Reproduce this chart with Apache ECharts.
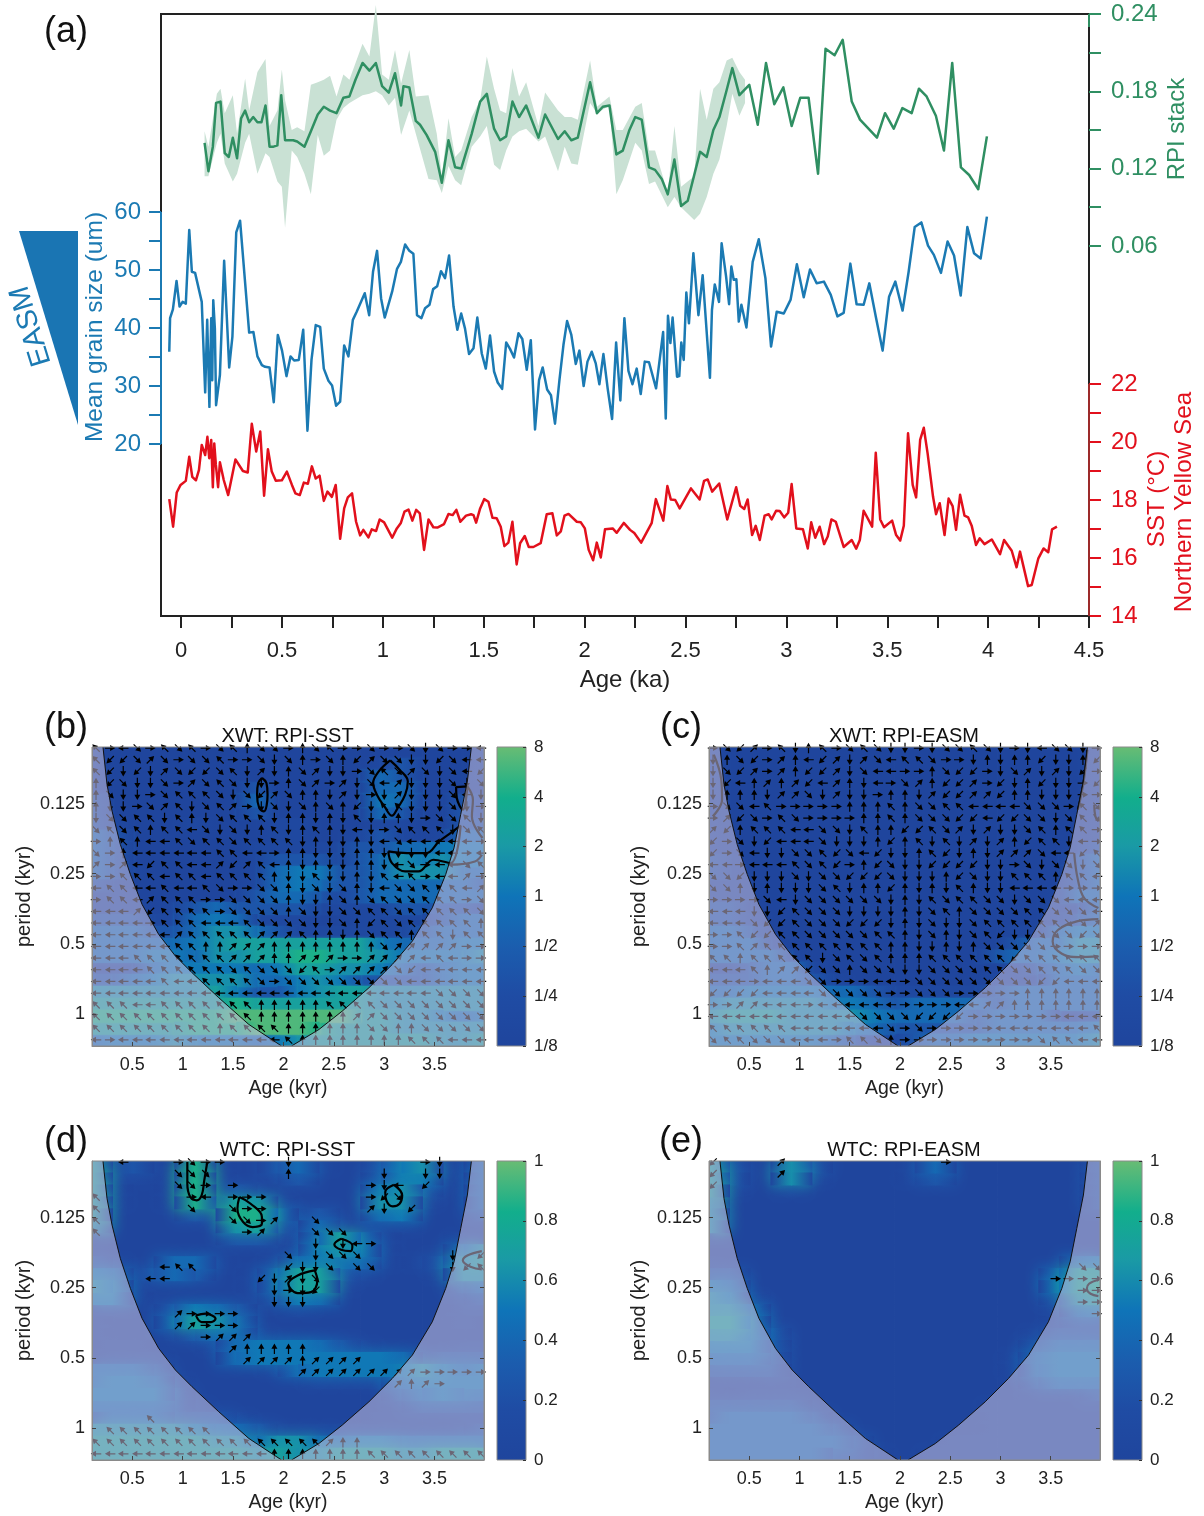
<!DOCTYPE html>
<html><head><meta charset="utf-8"><style>html,body{margin:0;background:#fff}#c{width:1204px;height:1516px}</style>
<script src="https://cdn.jsdelivr.net/npm/echarts@6/dist/echarts.min.js"></script></head><body><div id="c"></div><script>
const rpiAge=[.116,.135,.157,.173,.195,.216,.236,.256,.277,.297,.317,.337,.357,.378,.398,.418,.438,.458,.477,.496,.515,.535,.555,.575,.611,.643,.677,.707,.738,.77,.804,.834,.864,.899,.933,.965,.996,1.029,1.06,1.09,1.102,1.131,1.163,1.184,1.217,1.259,1.292,1.325,1.358,1.388,1.44,1.482,1.515,1.551,1.581,1.611,1.642,1.675,1.71,1.771,1.804,1.868,1.901,1.934,1.966,2.027,2.061,2.09,2.123,2.157,2.189,2.222,2.251,2.283,2.319,2.349,2.382,2.412,2.445,2.478,2.511,2.572,2.605,2.638,2.668,2.704,2.732,2.767,2.816,2.858,2.899,2.94,2.985,3.026,3.069,3.11,3.157,3.194,3.239,3.279,3.324,3.365,3.449,3.489,3.532,3.575,3.621,3.657,3.695,3.741,3.781,3.822,3.865,3.906,3.951,3.994];
const rpiVal=[.14,.118,.137,.171,.172,.132,.129,.144,.128,.159,.165,.156,.16,.156,.156,.169,.137,.137,.138,.177,.142,.142,.142,.141,.137,.149,.162,.168,.165,.163,.175,.176,.189,.202,.196,.202,.184,.179,.194,.169,.184,.183,.157,.154,.146,.133,.109,.142,.121,.12,.147,.172,.178,.151,.142,.145,.172,.16,.169,.144,.162,.143,.149,.142,.144,.187,.163,.168,.169,.131,.134,.15,.16,.158,.121,.119,.112,.1,.127,.091,.095,.133,.129,.15,.16,.181,.198,.177,.185,.154,.202,.17,.183,.153,.175,.175,.116,.213,.208,.22,.172,.158,.144,.163,.151,.167,.163,.182,.176,.161,.134,.202,.121,.115,.104,.145];
const bandAge=[.116,.135,.177,.195,.216,.256,.277,.317,.337,.378,.418,.438,.477,.499,.515,.548,.575,.611,.643,.677,.707,.738,.77,.804,.834,.899,.933,.965,.996,1.029,1.06,1.09,1.131,1.163,1.226,1.267,1.292,1.325,1.358,1.388,1.44,1.482,1.515,1.551,1.581,1.611,1.642,1.675,1.71,1.771,1.804,1.868,1.901,1.934,1.966,2.027,2.061,2.123,2.157,2.189,2.251,2.283,2.319,2.349,2.412,2.445,2.478,2.543,2.572,2.605,2.638,2.668,2.704,2.732,2.767,2.795];
const bandUp=[.149,.137,.178,.182,.163,.177,.147,.19,.165,.195,.205,.153,.165,.197,.173,.15,.152,.149,.185,.187,.189,.192,.176,.193,.189,.217,.207,.247,.193,.189,.212,.186,.212,.176,.177,.147,.114,.159,.129,.134,.16,.173,.207,.182,.165,.163,.198,.176,.187,.153,.179,.165,.16,.16,.158,.204,.168,.176,.15,.15,.168,.171,.134,.134,.101,.153,.106,.114,.182,.158,.182,.187,.204,.206,.195,.189];
const bandLow=[.114,.114,.14,.147,.124,.11,.116,.14,.147,.116,.132,.129,.11,.106,.074,.134,.129,.116,.1,.146,.13,.134,.158,.167,.171,.177,.178,.18,.177,.169,.175,.146,.165,.147,.112,.111,.101,.122,.111,.107,.137,.145,.153,.123,.119,.134,.145,.149,.151,.141,.145,.118,.137,.124,.123,.171,.163,.169,.1,.111,.14,.134,.108,.11,.09,.098,.09,.08,.085,.098,.116,.127,.153,.178,.161,.171];
const grainAge=[-.059,-.055,-.041,-.023,-.008,.007,.023,.04,.053,.069,.102,.119,.129,.14,.149,.154,.159,.167,.173,.192,.213,.238,.254,.273,.292,.337,.358,.378,.4,.416,.438,.459,.479,.5,.522,.542,.56,.583,.605,.626,.646,.667,.689,.707,.73,.748,.768,.788,.808,.829,.851,.87,.91,.932,.951,.971,.991,1.009,1.046,1.07,1.089,1.11,1.131,1.151,1.169,1.191,1.209,1.231,1.249,1.269,1.288,1.308,1.328,1.35,1.369,1.388,1.407,1.427,1.449,1.468,1.49,1.51,1.531,1.551,1.569,1.591,1.611,1.63,1.65,1.672,1.691,1.713,1.733,1.754,1.774,1.792,1.814,1.833,1.853,1.875,1.895,1.913,1.934,1.956,1.974,1.995,2.014,2.035,2.055,2.073,2.093,2.114,2.136,2.156,2.177,2.197,2.217,2.237,2.258,2.278,2.298,2.319,2.354,2.389,2.402,2.413,2.425,2.436,2.458,2.469,2.479,2.491,2.504,2.517,2.539,2.564,2.585,2.621,2.631,2.645,2.666,2.679,2.701,2.716,2.727,2.739,2.752,2.764,2.777,2.802,2.833,2.863,2.896,2.924,2.952,2.987,3.021,3.052,3.086,3.117,3.15,3.186,3.22,3.253,3.284,3.317,3.348,3.383,3.411,3.444,3.477,3.509,3.54,3.576,3.606,3.636,3.669,3.702,3.731,3.766,3.799,3.831,3.864,3.897,3.93,3.963,3.994];
const grainVal=[35.9,41.7,43.2,48.1,43.7,44.5,44.2,56.9,49.7,49.5,44.5,28.9,41.4,26.4,41.7,31,44.8,39.9,26.7,31.9,51.6,33.2,38.5,56.5,58.5,39.2,39.3,35.1,33.6,33.3,33.2,27.2,38.8,36.1,31.7,35.1,34.4,34.5,39.7,22.3,34.5,40.5,40.2,33,30.9,30.1,26.6,27.3,37,35.1,41.4,42.8,46,42.2,49.7,53.3,45.1,41.8,46.3,50.2,51.4,54.4,53.3,52.8,42.2,41.7,43.4,44,46.7,47.2,49.8,48.6,52.5,43.7,39.7,42.5,39.9,35.5,36.5,41.8,35.6,33,38.7,32.5,30.6,29.5,37.5,36.4,34.9,39.1,38.1,32.8,37.9,22.5,31,33.2,29.4,28.4,23.5,31,37.1,41.2,38.8,33.8,36.1,30,34.2,35.9,33.9,30.3,35.5,29.6,24.3,37.5,27.5,41.7,32.6,30.3,33,28.6,34.2,34.1,29.6,39.3,24.4,42.1,37.4,41.8,31.6,31.7,37.5,34.5,46.1,40.8,52.9,42.2,49.1,31.4,43.1,47.5,44.5,54.6,48.9,44.1,50.6,48.3,48.4,41.1,44,40.1,51.4,55.3,48.6,36.8,42.8,42.5,44.9,51,45.3,50.1,47.7,48,45.7,42,42.6,51.1,44.1,44,47.7,41.8,36.1,45.4,48,43,49.7,57.4,58.2,54.2,52.6,49.5,54.9,52.5,45.6,57.4,52.9,52,59.2];
const sstAge=[-.059,-.04,-.022,-.003,.023,.04,.055,.073,.088,.102,.119,.13,.139,.149,.157,.164,.172,.183,.192,.211,.233,.269,.306,.33,.35,.372,.392,.411,.43,.449,.469,.499,.524,.549,.566,.588,.608,.628,.648,.667,.686,.707,.725,.747,.766,.788,.808,.826,.847,.867,.887,.903,.928,.945,.966,.984,1.006,1.046,1.069,1.089,1.107,1.127,1.146,1.165,1.183,1.204,1.226,1.25,1.27,1.303,1.325,1.346,1.364,1.384,1.412,1.437,1.449,1.462,1.482,1.502,1.523,1.543,1.564,1.584,1.602,1.622,1.642,1.663,1.68,1.703,1.723,1.746,1.782,1.812,1.84,1.862,1.882,1.9,1.92,1.961,1.981,2.001,2.02,2.042,2.06,2.08,2.101,2.139,2.159,2.194,2.225,2.246,2.28,2.332,2.353,2.39,2.41,2.427,2.449,2.471,2.527,2.57,2.592,2.61,2.632,2.667,2.707,2.751,2.771,2.791,2.808,2.83,2.848,2.868,2.892,2.912,2.927,2.949,2.967,2.989,3.009,3.026,3.049,3.082,3.106,3.123,3.143,3.165,3.187,3.205,3.223,3.245,3.284,3.324,3.346,3.364,3.383,3.425,3.443,3.465,3.484,3.524,3.544,3.564,3.582,3.603,3.626,3.643,3.663,3.681,3.7,3.727,3.742,3.76,3.784,3.804,3.824,3.841,3.861,3.883,3.901,3.919,3.94,3.958,3.982,4.018,4.059,4.079,4.117,4.141,4.158,4.198,4.216,4.249,4.275,4.298,4.317,4.341];
const sstVal=[18.03,17.08,18.26,18.52,18.66,19.49,18.8,18.68,19.03,19.9,19.55,20.18,19.44,20.07,18.44,19.95,19.21,18.44,19.3,18.69,18.17,19.4,19,18.95,20.63,19.67,20.36,18.15,19.75,18.98,18.66,18.68,18.98,18.52,18.23,18.17,18.6,18.56,19.16,18.74,18.84,17.97,18.29,18.11,18.52,16.66,17.71,18.09,18.23,17.25,16.78,16.97,16.71,16.99,16.93,17.33,17.23,16.7,17.02,17.21,17.6,17.67,17.29,17.66,17.54,16.28,17.33,17.06,17.05,17.17,17.52,17.48,17.66,17.25,17.46,17.51,17.48,17.22,17.71,18.03,17.94,17.39,17.37,17.08,16.41,16.53,17.25,15.78,16.51,16.76,16.38,16.38,16.51,17.51,17.54,16.78,16.92,17.46,17.52,17.25,17.23,17.02,16.28,15.92,16.53,16.02,16.99,17.02,16.87,17.21,16.97,16.86,16.53,17.2,18.03,17.29,18.48,18.02,18,17.71,18.4,18.02,18.66,18.71,18.29,18.57,17.33,18.44,17.8,17.69,18.02,16.79,17.11,16.62,17.46,17.51,17.33,17.63,17.62,17.4,17.56,18.55,17.02,16.99,16.33,17.23,16.7,17.08,16.48,16.74,17.33,17.25,16.38,16.62,16.32,16.62,17.63,17.08,19.63,17.33,17.06,17.29,16.79,16.6,17.11,20.3,18.52,18.09,20.07,20.49,19.61,18.11,17.51,17.89,16.79,18.05,17.79,16.97,18.18,17.46,17.4,17.1,16.45,16.68,16.48,16.64,16.13,16.62,16.25,15.68,16.22,15.03,15.07,15.99,16.33,16.2,16.99,17.08];
const ageTicks=[0,.25,.5,.75,1,1.25,1.5,1.75,2,2.25,2.5,2.75,3,3.25,3.5,3.75,4,4.25,4.5];
const ageLabels=[0,.5,1,1.5,2,2.5,3,3.5,4,4.5];
const grainTicks=[20,25,30,35,40,45,50,55,60],grainLabels=[20,30,40,50,60];
const rpiTicks=[.06,.09,.12,.15,.18,.21,.24],rpiLabels=[.06,.12,.18,.24];
const sstTicks=[14,15,16,17,18,19,20,21,22],sstLabels=[14,16,18,20,22];
const colAge=[.1,.305,.51,.715,.92,1.125,1.33,1.535,1.74,1.945,2.15,2.355,2.56,2.765,2.97,3.175,3.38,3.585,3.79,3.995];
const rowOct=[-3.725,-3.554,-3.383,-3.212,-3.042,-2.871,-2.7,-2.529,-2.358,-2.187,-2.016,-1.845,-1.674,-1.503,-1.332,-1.161,-.99,-.819,-.648,-.477,-.306,-.135,.035,.206,.377];
const levelB=[[1,0,0,0,0,0,0,0,0,0,0,0,0,0,0,0,0,0,0,1],[1,0,0,0,0,0,0,0,0,0,0,0,0,0,1,2,0,0,0,1],[1,0,0,0,0,0,0,0,0,0,0,0,0,0,3,2,0,0,0,1],[1,0,0,0,0,0,0,0,2,0,0,0,0,0,3,3,0,0,0,0],[2,0,0,0,0,0,0,0,3,0,0,0,0,0,4,3,0,0,2,1],[2,0,0,0,0,0,0,0,2,0,0,0,0,0,3,2,0,0,2,1],[2,1,0,0,0,1,0,0,0,1,1,0,0,0,1,1,0,0,2,2],[3,2,0,0,0,0,0,0,0,1,1,0,0,1,2,1,0,1,3,3],[3,2,0,0,0,0,0,0,1,1,1,1,1,2,2,3,3,4,4,4],[3,2,0,0,0,0,0,0,1,2,2,2,1,2,3,5,4,5,4,4],[3,2,1,0,0,0,0,0,1,3,4,4,2,2,3,5,5,5,3,3],[2,1,0,0,0,0,0,0,1,3,4,3,2,2,3,3,3,3,3,2],[1,1,0,0,0,0,0,0,2,3,3,2,1,2,3,3,3,3,3,3],[1,1,1,0,1,2,3,2,2,2,2,1,1,1,1,2,2,2,2,1],[2,2,2,1,1,3,4,3,1,1,1,0,0,1,1,1,1,2,3,3],[3,3,3,2,2,3,5,5,3,2,1,1,1,1,1,1,2,3,3,3],[3,3,3,3,3,4,5,6,6,6,6,6,6,6,4,3,3,3,4,4],[3,3,3,4,4,3,5,5,6,6,7,7,6,6,5,4,4,4,4,5],[1,1,1,3,4,4,4,4,3,4,6,6,5,5,4,3,2,3,4,4],[2,2,3,4,5,5,5,5,3,3,4,5,4,2,2,2,2,3,4,4],[5,5,5,5,5,5,6,4,2,2,4,5,6,6,5,5,5,5,5,5],[6,6,6,6,6,6,6,7,6,6,6,6,6,6,5,5,5,5,5,5],[7,7,7,7,7,7,7,8,8,8,8,8,8,6,6,5,5,4,3,4],[6,6,6,6,6,7,7,7,8,8,8,7,6,6,6,5,5,5,5,5],[3,4,4,4,5,4,4,4,3,4,5,6,6,6,6,6,6,5,5,6]];
const levelC=[[1,0,0,0,0,0,0,0,0,0,0,0,0,0,0,0,0,0,0,1],[1,0,0,0,0,0,0,0,0,0,0,0,0,0,0,0,0,0,0,1],[1,0,0,0,0,0,0,0,0,0,0,0,0,0,0,0,0,0,0,1],[1,0,0,0,0,0,0,0,0,0,0,0,0,0,0,0,0,0,0,1],[1,0,0,0,0,0,0,0,0,0,0,0,0,0,0,0,0,0,0,1],[1,0,0,0,0,0,0,0,0,0,0,0,0,0,0,0,0,0,0,1],[1,0,0,0,0,0,0,0,0,0,0,0,0,0,0,0,0,0,0,1],[1,0,0,0,0,0,0,0,0,0,0,0,0,0,0,0,0,0,0,1],[1,0,0,0,0,0,0,0,0,0,0,0,0,0,0,0,0,0,1,2],[2,1,0,0,0,0,0,0,0,0,0,0,0,0,0,0,0,0,2,3],[2,1,0,0,0,0,0,0,0,0,0,0,0,0,0,0,0,0,2,3],[1,1,0,0,0,0,0,0,0,0,0,0,0,0,0,0,0,0,2,3],[1,1,0,0,0,0,0,0,0,0,0,0,0,0,0,0,0,1,3,3],[2,2,0,0,0,0,0,0,0,0,0,0,0,0,0,0,0,1,1,3],[2,2,1,0,0,0,0,0,0,0,0,0,0,0,0,0,0,1,2,3],[3,3,2,0,0,0,0,0,0,0,0,0,0,0,0,1,0,3,4,4],[3,3,3,1,0,0,0,0,0,0,0,0,0,0,0,2,3,3,5,5],[3,3,3,3,1,0,0,0,0,0,0,0,0,0,2,3,3,4,5,5],[1,1,2,3,3,1,0,0,0,0,0,0,0,0,0,1,2,3,4,3],[2,2,2,3,3,2,1,0,0,0,0,0,0,0,1,1,1,3,3,3],[3,3,4,4,4,4,3,3,2,1,1,1,1,1,2,3,3,3,3,3],[4,5,5,5,5,5,4,4,3,2,3,3,3,3,2,3,3,3,3,3],[5,6,6,6,5,5,5,5,4,3,3,3,3,2,3,3,3,1,1,2],[4,5,5,5,5,5,5,4,3,2,2,2,2,2,3,3,3,3,3,4],[4,4,4,4,4,4,3,2,1,1,2,3,3,4,4,4,4,4,4,5]];
const levelD=[[6,1,2,0,0,7,1,0,0,2,3,1,0,0,2,4,5,1,0,3],[6,1,1,0,1,7,1,0,0,1,2,0,0,0,2,4,4,0,0,3],[6,1,0,0,1,7,1,2,1,0,0,0,0,0,4,5,2,0,0,3],[6,1,0,0,1,7,2,6,5,1,0,0,0,0,5,5,1,0,0,3],[6,0,0,0,0,2,1,7,7,3,0,2,0,0,3,4,0,0,0,2],[5,0,0,0,0,0,0,5,6,2,0,3,1,1,1,1,0,0,0,1],[1,0,0,0,0,0,0,2,2,1,0,3,6,3,1,0,0,0,1,1],[1,0,0,0,0,0,0,0,0,0,1,4,5,4,1,0,0,0,3,5],[2,1,0,0,3,3,1,0,0,1,3,4,3,3,1,0,1,2,5,6],[4,3,1,2,3,2,0,0,1,3,6,6,2,1,0,0,0,1,5,5],[5,4,0,0,0,0,0,0,1,3,6,6,1,0,0,0,0,0,2,3],[4,4,1,0,0,0,0,0,0,2,4,3,0,0,0,0,0,0,1,2],[1,1,0,0,2,4,3,2,0,0,1,0,0,0,0,0,0,0,1,1],[1,0,0,0,3,6,5,3,0,0,0,0,0,0,0,0,0,0,1,0],[1,0,0,0,1,2,3,3,1,0,0,0,0,0,0,0,0,0,0,0],[0,1,1,0,0,0,1,3,4,4,4,3,2,1,0,0,0,0,1,1],[0,1,1,1,0,0,0,3,4,4,4,4,4,4,4,3,1,2,2,2],[3,3,3,2,0,0,0,0,0,1,3,4,4,4,4,4,5,4,3,4],[3,4,4,3,1,0,0,0,0,0,0,1,1,1,1,3,4,4,4,4],[4,4,4,4,2,0,0,0,0,0,0,0,0,0,0,2,3,4,3,3],[3,3,3,3,2,1,0,0,0,0,0,0,0,0,0,1,2,2,2,2],[2,3,3,3,2,2,2,1,0,0,0,0,0,0,1,1,1,1,1,1],[5,5,5,5,5,4,3,3,2,1,1,1,1,1,1,1,1,1,1,2],[6,6,6,6,6,6,5,5,3,5,5,3,3,4,4,3,3,3,3,3],[6,6,6,6,6,6,6,6,5,6,5,5,6,6,6,5,5,6,6,6]];
const levelE=[[6,2,0,0,5,2,0,0,0,0,1,3,0,0,0,0,0,0,0,2],[6,2,0,0,5,1,0,0,0,0,1,2,0,0,0,0,0,0,0,2],[6,1,0,0,1,0,0,0,0,0,0,0,0,0,0,0,0,0,0,2],[5,0,0,0,0,0,0,0,0,0,0,0,0,0,0,0,0,0,0,2],[5,0,0,0,0,0,0,0,0,0,0,0,0,0,0,0,0,0,0,1],[5,0,0,0,0,0,0,0,0,0,0,0,0,0,0,0,0,0,0,0],[1,0,0,0,0,0,0,0,0,0,0,0,0,0,0,0,0,0,0,0],[0,0,0,0,0,0,0,0,0,0,0,0,0,0,0,0,0,0,0,0],[1,0,0,0,0,0,0,0,0,0,0,0,0,0,0,0,0,0,3,4],[2,2,0,0,0,0,0,0,0,0,0,0,0,0,0,0,0,3,6,6],[4,3,0,0,0,0,0,0,0,0,0,0,0,0,0,0,0,4,6,7],[5,4,1,0,0,0,0,0,0,0,0,0,0,0,0,0,0,2,5,6],[5,5,3,0,0,0,0,0,0,0,0,0,0,0,0,0,0,1,3,4],[6,6,4,0,0,0,0,0,0,0,0,0,0,0,0,0,0,1,2,2],[5,5,4,2,0,0,0,0,0,0,0,0,0,0,0,0,1,2,2,2],[4,4,4,2,0,0,0,0,0,0,0,0,0,0,0,0,2,3,3,3],[3,3,3,2,0,0,0,0,0,0,0,0,0,0,0,1,3,4,4,4],[2,2,2,2,0,0,0,0,0,0,0,0,0,0,0,1,3,4,4,4],[0,0,0,1,0,0,0,0,0,0,0,0,0,0,0,0,2,3,3,3],[1,0,1,1,1,0,0,0,0,0,0,0,0,0,0,0,1,1,1,2],[2,2,2,2,2,0,0,0,0,0,0,0,0,0,1,1,1,1,1,1],[2,3,3,3,3,2,0,0,0,0,0,0,0,0,1,1,1,1,1,1],[3,3,3,3,3,3,2,0,0,0,0,0,0,0,1,1,1,1,1,1],[3,3,3,3,3,3,3,2,0,0,0,0,1,1,1,1,1,1,1,1],[3,3,3,3,3,3,2,2,1,0,0,1,1,1,1,1,1,1,1,1]];
const arrowAge=[.14,.28,.41,.55,.68,.82,.96,1.09,1.23,1.37,1.5,1.64,1.78,1.91,2.05,2.19,2.32,2.46,2.59,2.73,2.87,3,3.14,3.27,3.41,3.55,3.68,3.82,3.96];
const arrowOct=[-3.795,-3.628,-3.462,-3.295,-3.129,-2.962,-2.795,-2.629,-2.462,-2.295,-2.129,-1.962,-1.795,-1.629,-1.462,-1.295,-1.129,-.962,-.795,-.629,-.462,-.295,-.129,.038,.205,.372];
const phaseB=["30470373073277027300700767004","35571707730076720725177665744","35656175573616271660737176745","25766701737660271016741666767","27660733376751722616061666746","26607136731067672725633666760","67733632673336226263622607736","73732334767623623264607333673","02324437337333362662647444440","70244444433440226662266664404","10145334415134262662264704473","00333433433332663662634304410","43344344370077267672647733341","03341333007777266272737733307","44415333307777276677337333337","44440333444377776672537333332","44444413333311132262733233633","44444433221112222222271111100","44433333331112211100111143400","44443333337377753011117544444","44444344333370777777777444444","44444444444444444444444447777","33344333333322222333377777777","33333333333322222221177777777","33333333323333222222772277777","40444444444444322222222333444"];
const phaseC=["07510362307376606773760647760","62750124516174337006262256625","67510125516744002755067161650","65421215412640712551056256605","62226117616602261551152266600","07743000002223277334444777037","01570370000223277755455776737","15233344776322553716166732330","50765444766625236361612533640","50746677357456623562611174453","44044437350257665555660767767","77566676775557666257663332334","77262666736225262632664444000","00007467777776263733776777444","44466537776666267327777337774","44475537775556267667333333771","00355337777733267267356677757","00313333333332266262777778000","33233333673732223333335333333","44432115772777667777337733377","44404447700044077777777755444","55554444777770077700000222222","00114440444444000044112222222","44444444444777755550000000444","33333344444447070000044444443","73377744403372000000000073344"];
const phaseD=["..4...0700....6.........06...","......777.....2......6..66...","......770.0.........064.5....","3......04.000.......057......","3......7..700.......16.5.....","3.........7701..7............","3..........01...777..........","................6.640........","..............7.6777......6.5",".....433......5667.77.....653","....44......56167............",".............6065............",".............666.............","......10000..................","......11000..................","........0111.................","..........122222.............","...........111121111.........","...............11111111100000","......................1210...",".............................",".............................","....3........................",".33333333....................","33333333333333333122.........","44444444444442222222333333333"];
const phaseE=["5....1...........0...........","5....1.......................","5............................",".............................",".............................",".............................",".............................",".............................",".............................","...........................77",".........................0000","...........................00","...........................00","............................0",".............................",".............................",".............................",".............................",".............................",".............................",".............................",".............................",".............................",".............................",".............................","............................."];
const coiLeftAge=[.209,.249,.299,.381,.481,.597,.762,.928,1.093,1.358,1.656,1.981];
const coiLeftOct=[-3.81,-3.276,-2.895,-2.419,-1.99,-1.562,-1.133,-.824,-.586,-.229,.152,.46];
const coiRightAge=[3.865,3.825,3.759,3.693,3.61,3.477,3.279,3.08,2.848,2.583,2.352,2.08];
const coiRightOct=[-3.81,-3.324,-2.848,-2.371,-1.99,-1.514,-1.038,-.705,-.371,-.038,.224,.46];
const contourB=[{age:[1.787,1.831,1.842,1.805,1.76,1.738,1.749,1.787],oct:[-3.367,-3.295,-3.129,-2.89,-2.938,-3.129,-3.295,-3.367]},{age:[3.059,3.152,3.234,3.208,3.133,3.077,3.002,2.927,2.89,2.946,3.059],oct:[-3.619,-3.486,-3.319,-3.129,-2.938,-2.829,-2.962,-3.129,-3.295,-3.462,-3.619]},{age:[3.713,3.825,3.78,3.72,3.713],oct:[-3.238,-3.248,-2.914,-3.081,-3.238]},{age:[3.04,3.227,3.414,3.545,3.657,3.758,3.657,3.488,3.339,3.208,3.077,3.04],oct:[-2.319,-2.295,-2.295,-2.462,-2.581,-2.686,-2.152,-2.2,-2.033,-2.033,-2.152,-2.319]},{age:[3.825,3.88,3.87,3.975],oct:[-3.248,-3.057,-2.819,-2.51]},{age:[3.675,3.9,3.97],oct:[-2.129,-2.176,-2.271]}];
const contourC=[{age:[.148,.222,.23,.137],oct:[-3.7,-3.343,-3.057,-2.819]},{age:[3.733,3.77,3.833,3.974],oct:[-2.295,-1.914,-1.652,-1.51]},{age:[3.974,3.759,3.574,3.519,3.611,3.778,3.974],oct:[-1.352,-1.319,-1.2,-1.033,-.857,-.81,-.819]},{age:[3.933,3.944,3.974],oct:[-2.986,-2.819,-2.748]},{age:[3.865,3.825,3.77],oct:[-3.77,-3.295,-2.914]}];
const contourD=[{age:[1.046,1.046,1.076,1.139,1.188,1.214,1.244],oct:[-3.795,-3.486,-3.295,-3.248,-3.319,-3.533,-3.795]},{age:[1.562,1.674,1.786,1.786,1.693,1.6,1.543,1.562],oct:[-3.295,-3.2,-3.01,-2.914,-2.867,-2.938,-3.129,-3.295]},{age:[3.096,3.178,3.152,3.085,3.021,3.01,3.096],oct:[-3.471,-3.319,-3.2,-3.162,-3.248,-3.367,-3.471]},{age:[2.572,2.684,2.665,2.572,2.505,2.572],oct:[-2.7,-2.605,-2.524,-2.543,-2.619,-2.7]},{age:[2.31,2.336,2.273,2.141,2.048,2.141,2.31],oct:[-2.248,-2.105,-1.938,-1.924,-2.057,-2.176,-2.248]},{age:[1.132,1.225,1.326,1.281,1.188,1.132],oct:[-1.605,-1.629,-1.557,-1.51,-1.51,-1.605]},{age:[3.968,3.825,3.78,3.863,3.968],oct:[-2.524,-2.462,-2.39,-2.295,-2.262]}];
const contourE=[{age:[3.974,3.881,3.859,3.896,3.974],oct:[-2.114,-2.057,-1.986,-1.914,-1.881]}];
const periodTicks=[.125,.25,.5,1],periodOct=[-3,-2,-1,0];
const panelAgeLabels=[.5,1,1.5,2,2.5,3,3.5];
const xwtLabels=['1/8','1/4','1/2','1','2','4','8'],wtcLabels=[0,.2,.4,.6,.8,1];

const FONT='"Liberation Sans",Arial,sans-serif',BLUE='#1b7ab3',GREEN='#2f8f62',RED='#e2101c';
const stops=[[0,[31,69,157]],[.17,[31,76,164]],[.33,[27,93,174]],[.5,[15,116,184]],[.67,[26,154,165]],[.83,[18,174,140]],[1,[104,188,116]]];
const levelTone=[0,.08,.25,.42,.52,.62,.72,.85,.95,1];
const hex=c=>`rgb(${c.map(Math.round).join(',')})`;
function tone(t){for(let i=1;i<stops.length;i++){if(t<=stops[i][0]){const a=stops[i-1],b=stops[i],f=(t-a[0])/(b[0]-a[0]);return hex(a[1].map((v,k)=>v+(b[1][k]-v)*f));}}return hex(stops[6][1]);}
const gradStops=stops.map(s=>({offset:1-s[0],color:hex(s[1])})).reverse();
const grid=[],xAxis=[],yAxis=[],series=[],graphic=[];
const rot=Math.PI/2;
function txt(text,x,y,size,color,rotation){graphic.push({type:'text',x,y,rotation:rotation||0,silent:true,z:50,style:{text,fontFamily:FONT,fontSize:size,fill:color||'#111',align:'center',verticalAlign:'middle'}});}

// panel (a)
grid.push({left:161,top:14,width:928,height:602,show:true,borderColor:'#222',borderWidth:2,backgroundColor:'transparent'});
xAxis.push({type:'value',gridIndex:0,min:-.1,max:4.5,splitLine:{show:false},axisLine:{onZero:false,lineStyle:{color:'#222',width:2}},
 axisTick:{length:12,customValues:ageTicks,lineStyle:{color:'#222',width:2}},axisLabel:{customValues:ageLabels,fontFamily:FONT,fontSize:22,color:'#222',margin:24},
 name:'Age (ka)',nameLocation:'middle',nameGap:52,nameTextStyle:{fontFamily:FONT,fontSize:24,color:'#222'}});
const yA=(pos,min,max,ticks,labels,color,fmt)=>({type:'value',gridIndex:0,position:pos,min,max,splitLine:{show:false},axisLine:{show:false,onZero:false},
 axisTick:{show:true,length:12,customValues:ticks,lineStyle:{color,width:2}},axisLabel:{customValues:labels,fontFamily:FONT,fontSize:24,color,margin:pos=='left'?20:22,padding:[4,0,0,0],formatter:fmt}});
yAxis.push(yA('left',-9.66,94.14,grainTicks,grainLabels,BLUE,v=>String(v)));
yAxis.push(yA('right',-.2273,.24,rpiTicks,rpiLabels,GREEN,v=>v.toFixed(2)));
yAxis.push(yA('right',14,34.76,sstTicks,sstLabels,RED,v=>String(v)));
const zip=(a,b)=>a.map((x,i)=>[x,b[i]]);
series.push({type:'custom',xAxisIndex:0,yAxisIndex:1,z:1,silent:true,data:[[1,.1]],renderItem:(p,api)=>{
 const pts=zip(bandAge,bandUp).concat(zip(bandAge,bandLow).reverse()).map(d=>api.coord(d));
 return {type:'polygon',shape:{points:pts},style:{fill:'#c9e1d4'}};}});
const ln=(a,b,yi,color)=>({type:'line',xAxisIndex:0,yAxisIndex:yi,data:zip(a,b),showSymbol:false,clip:false,silent:true,z:3,lineStyle:{color,width:2.5,join:'round'}});
series.push(ln(rpiAge,rpiVal,1,GREEN),ln(grainAge,grainVal,0,BLUE),ln(sstAge,sstVal,2,RED));
const seg=(x,a,b,yi,color)=>({type:'line',xAxisIndex:0,yAxisIndex:yi,data:[[x,a],[x,b]],showSymbol:false,clip:false,silent:true,z:4,lineStyle:{color,width:2}});
series.push(seg(-.1,20,60,0,BLUE),seg(4.5,.23,.24,1,GREEN),seg(4.5,14,22,2,'#9c2a2a'));
graphic.push({type:'polygon',silent:true,shape:{points:[[19,231],[78,231],[78,425]]},style:{fill:'#1a75b3'}});
txt('EASM',31,326,29,BLUE,1.87);
txt('Mean grain size (um)',95,327,24.5,BLUE,rot);
txt('RPI stack',1177,129,24,GREEN,rot);
txt('SST (°C)',1157,499,24,RED,rot);
txt('Northern Yellow Sea',1184,502,24.3,RED,rot);
txt('(a)',66,32,36,'#111');

// wavelet panels
const OMIN=-3.81,OMAX=.46,AMIN=.1,AMAX=3.99,HALF=.0871;
const overlay='rgba(205,195,225,.52)';
function panel(o){
 const g=grid.length;
 grid.push({left:o.x,top:o.y,width:o.w,height:299,show:true,borderColor:'#8a8a8a',borderWidth:1,z:30});
 xAxis.push({type:'value',gridIndex:g,min:AMIN,max:AMAX,z:30,splitLine:{show:false},axisLine:{onZero:false,lineStyle:{color:'#8a8a8a'}},
  axisTick:{inside:true,length:4,customValues:panelAgeLabels,lineStyle:{color:'#444'}},axisLabel:{customValues:panelAgeLabels,fontFamily:FONT,fontSize:18,color:'#222',margin:10},
  name:'Age (kyr)',nameLocation:'middle',nameGap:33,nameTextStyle:{fontFamily:FONT,fontSize:19.5,color:'#222'}});
 const yi=yAxis.length;
 yAxis.push({type:'value',gridIndex:g,min:OMIN,max:OMAX,inverse:true,z:30,splitLine:{show:false},axisLine:{onZero:false,lineStyle:{color:'#8a8a8a'}},
  axisTick:{inside:true,length:4,customValues:periodOct,lineStyle:{color:'#444'}},axisLabel:{customValues:periodOct,fontFamily:FONT,fontSize:18,color:'#222',margin:7,padding:[4,0,0,0],formatter:v=>String(periodTicks[periodOct.indexOf(v)])},
  name:'period (kyr)',nameLocation:'middle',nameGap:o.gapY,nameTextStyle:{fontFamily:FONT,fontSize:20,color:'#222'}});
 yAxis.push({type:'value',gridIndex:g,position:'right',min:OMIN,max:OMAX,inverse:true,z:30,splitLine:{show:false},axisLine:{onZero:false,lineStyle:{color:'#8a8a8a'}},
  axisTick:{inside:true,length:4,customValues:periodOct,lineStyle:{color:'#444'}},axisLabel:{show:false}});
 const xi=xAxis.length-1;
 const cells=[];
 o.level.forEach((row,r)=>{for(let c=0;c<row.length-1;c++)cells.push([colAge[c],colAge[c+1],rowOct[r]-HALF,rowOct[r]+HALF,row[c],row[c+1]]);});
 cells.sort((a,b)=>Math.max(a[4],a[5])-Math.max(b[4],b[5]));
 series.push({type:'custom',xAxisIndex:xi,yAxisIndex:yi,z:1,silent:true,clip:true,data:cells,encode:{x:[0,1],y:[2,3]},renderItem:(p,api)=>{
  const a=api.coord([api.value(0),api.value(2)]),b=api.coord([api.value(1),api.value(3)]);
  const v0=api.value(4),v1=api.value(5),c0=tone(levelTone[v0]),c1=tone(levelTone[v1]),hot=Math.max(v0,v1)>0;
  return {type:'rect',shape:{x:a[0]-.4,y:a[1]-.4,width:b[0]-a[0]+.8,height:b[1]-a[1]+.8},
   style:{fill:new echarts.graphic.LinearGradient(0,0,1,0,[{offset:0,color:c0},{offset:1,color:c1}]),shadowBlur:hot?o.soft:0,shadowColor:v0>v1?c0:c1}};}});
 const arrows=[];
 o.phase.forEach((s,r)=>{for(let c=0;c<s.length&&c<arrowAge.length;c++){if(s[c]!=='.')arrows.push([arrowAge[c],arrowOct[r],+s[c]]);}});
 series.push({type:'scatter',xAxisIndex:xi,yAxisIndex:yi,z:3,silent:true,clip:true,data:arrows,symbol:'path://M4 24V12H0L5 0L10 12H6V24Z',symbolSize:[6,10.5],symbolRotate:v=>v[2]*45-90,itemStyle:{color:'#000',opacity:1}});
 o.contour.forEach(k=>series.push({type:'line',xAxisIndex:xi,yAxisIndex:yi,z:4,silent:true,smooth:.4,showSymbol:false,clip:true,data:zip(k.age,k.oct),lineStyle:{color:'#000',width:2.2}}));
 const poly=(ages,octs,edge)=>({type:'custom',xAxisIndex:xi,yAxisIndex:yi,z:6,silent:true,data:[[1,-1]],renderItem:(p,api)=>({type:'polygon',
   shape:{points:zip(ages,octs).concat([[edge,OMAX],[edge,OMIN]]).map(d=>api.coord(d))},style:{fill:overlay}})});
 series.push(poly(coiLeftAge,coiLeftOct,AMIN),poly(coiRightAge,coiRightOct,AMAX));
 series.push({type:'line',xAxisIndex:xi,yAxisIndex:yi,z:7,silent:true,showSymbol:false,data:zip(coiLeftAge,coiLeftOct),lineStyle:{color:'#111',width:1}});
 series.push({type:'line',xAxisIndex:xi,yAxisIndex:yi,z:7,silent:true,showSymbol:false,data:zip(coiRightAge,coiRightOct),lineStyle:{color:'#111',width:1}});
 // colour bar
 const g2=grid.length;
 grid.push({left:o.x+o.w+13,top:o.y,width:29,height:299,show:true,borderColor:'#8a8a8a',borderWidth:1,z:30});
 const n=o.barLabels.length;
 xAxis.push({type:'value',gridIndex:g2,min:0,max:1,show:false});
 const barVals=o.barLabels.map((_,i)=>i/(n-1));
 yAxis.push({type:'value',gridIndex:g2,position:'right',min:0,max:1,z:30,splitLine:{show:false},axisLine:{show:false,onZero:false},
  axisTick:{inside:true,length:3,customValues:barVals,lineStyle:{color:'#333'}},
  axisLabel:{customValues:barVals,fontFamily:FONT,fontSize:17,color:'#222',margin:8,padding:[4,0,0,0],formatter:v=>String(o.barLabels[Math.round(v*(n-1))])}});
 series.push({type:'custom',xAxisIndex:xAxis.length-1,yAxisIndex:yAxis.length-1,z:1,silent:true,data:[[.5,.5]],renderItem:(p,api)=>{
  const a=api.coord([0,1]),b=api.coord([1,0]);
  return {type:'rect',shape:{x:a[0],y:a[1],width:b[0]-a[0],height:b[1]-a[1]},style:{fill:new echarts.graphic.LinearGradient(0,0,0,1,gradStops)}};}});
 txt(o.title,o.x+o.w/2-.5,o.y-11,20,'#111');
 txt(o.tag,o.tagX,o.y-19,36,'#111');
}
panel({x:92,y:747,w:392,tagX:66,gapY:58,soft:3,level:levelB,phase:phaseB,contour:contourB,barLabels:xwtLabels,title:'XWT: RPI-SST',tag:'(b)'});
panel({x:709,y:747,w:391,tagX:681,gapY:60,soft:3,level:levelC,phase:phaseC,contour:contourC,barLabels:xwtLabels,title:'XWT: RPI-EASM',tag:'(c)'});
panel({x:92,y:1161,w:392,tagX:66,gapY:58,soft:14,level:levelD,phase:phaseD,contour:contourD,barLabels:wtcLabels,title:'WTC: RPI-SST',tag:'(d)'});
panel({x:709,y:1161,w:391,tagX:681,gapY:60,soft:14,level:levelE,phase:phaseE,contour:contourE,barLabels:wtcLabels,title:'WTC: RPI-EASM',tag:'(e)'});

const chart=echarts.init(document.getElementById('c'),null,{renderer:'canvas'});
chart.setOption({animation:false,backgroundColor:'#fff',textStyle:{fontFamily:FONT},grid,xAxis,yAxis,series,graphic});
</script></body></html>
